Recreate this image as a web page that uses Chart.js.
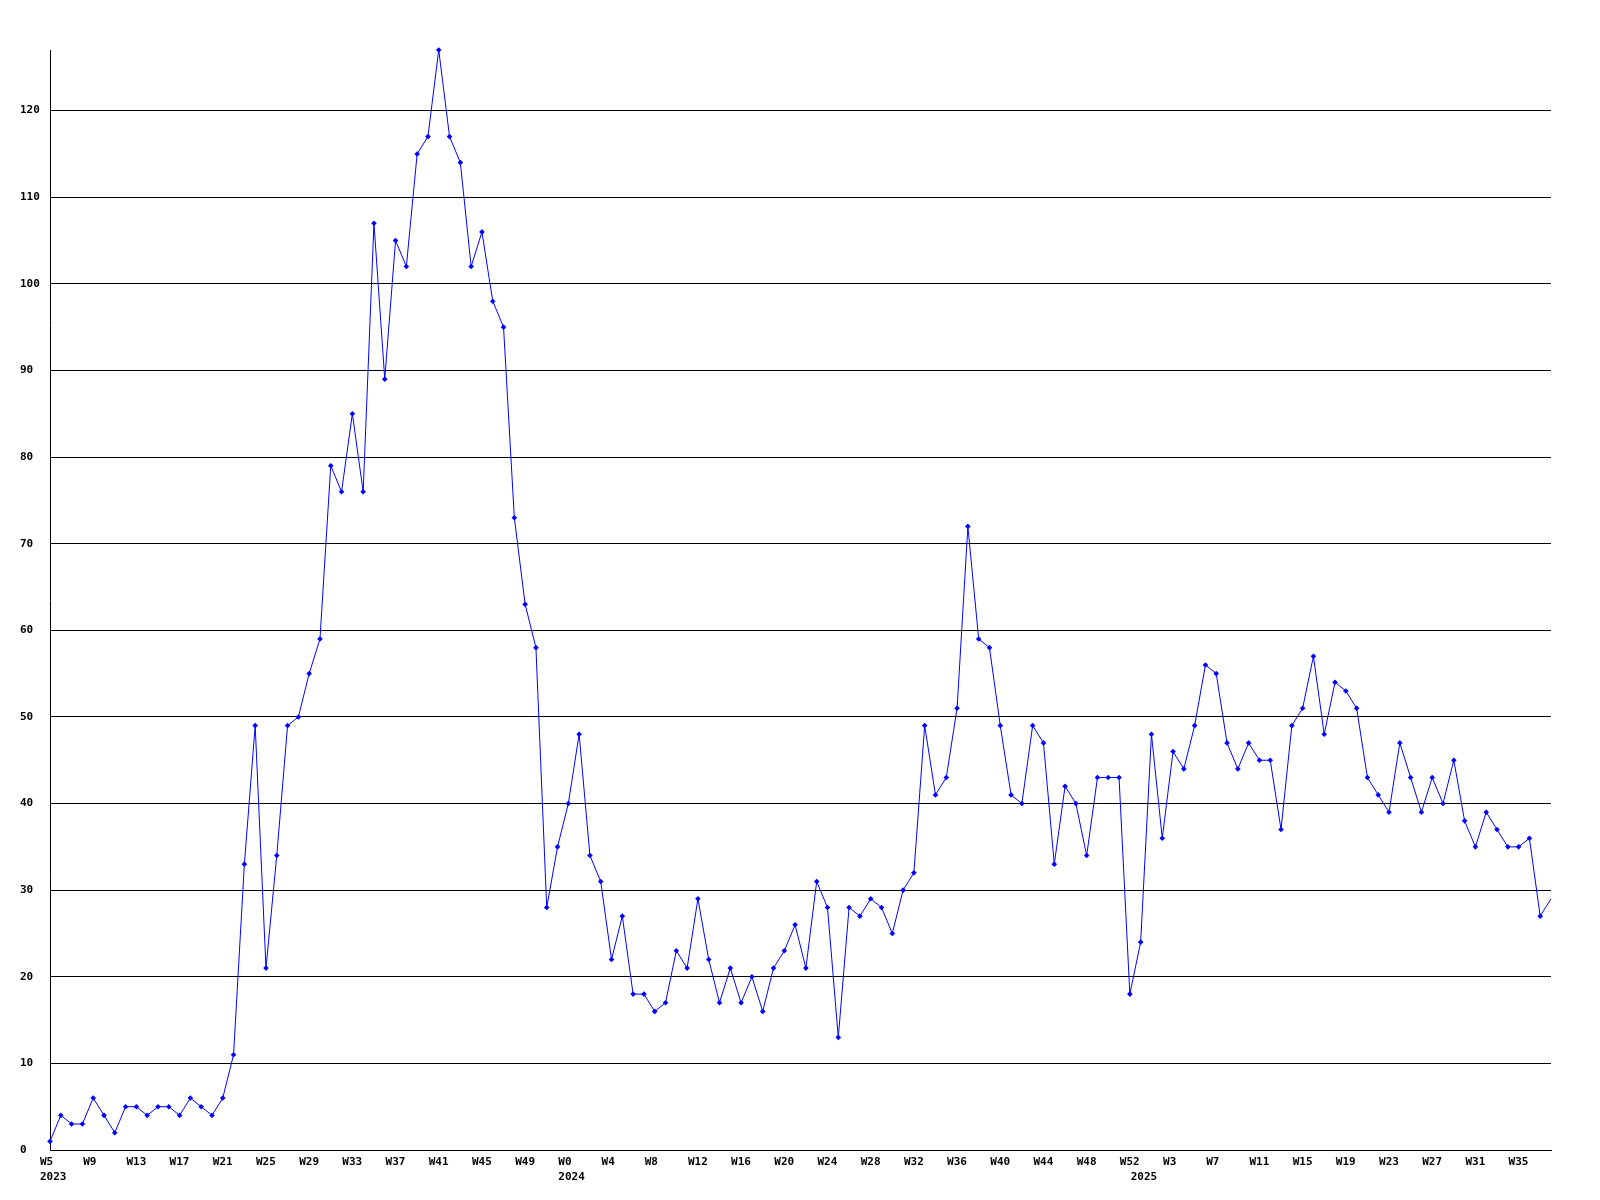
<!DOCTYPE html>
<html lang="en">
  <head>
    <meta charset="UTF-8" />
    <title>Weekly count</title>
    <script src="https://cdn.jsdelivr.net/npm/chart.js@4.4.1/dist/chart.umd.min.js"></script>
    <style>
      body {
        margin: 0;
        background: #fff;
      }
      canvas {
        display: block;
      }
    </style>
  </head>
  <body>
    <canvas id="weekly" width="1600" height="1200"></canvas>
    <script>
      // year, first week, last week shown for that year
      const yearWeeks = [
        [2023, 5, 52],
        [2024, 0, 52],
        [2025, 0, 38]
      ]

      const counts = [
        1, 4, 3, 3, 6, 4, 2, 5, 5, 4, 5, 5, 4, 6, 5, 4, 6, 11, 33, 49,
        21, 34, 49, 50, 55, 59, 79, 76, 85, 76, 107, 89, 105, 102, 115, 117, 127, 117, 114, 102,
        106, 98, 95, 73, 63, 58, 28, 35, 40, 48, 34, 31, 22, 27, 18, 18, 16, 17, 23, 21,
        29, 22, 17, 21, 17, 20, 16, 21, 23, 26, 21, 31, 28, 13, 28, 27, 29, 28, 25, 30,
        32, 49, 41, 43, 51, 72, 59, 58, 49, 41, 40, 49, 47, 33, 42, 40, 34, 43, 43, 43,
        18, 24, 48, 36, 46, 44, 49, 56, 55, 47, 44, 47, 45, 45, 37, 49, 51, 57, 48, 54,
        53, 51, 43, 41, 39, 47, 43, 39, 43, 40, 45, 38, 35, 39, 37, 35, 35, 36, 27, 29
      ]

      const yTicks = [0, 10, 20, 30, 40, 50, 60, 70, 80, 90, 100, 110, 120]
      const yMax = 127

      const weekLabels = []
      const weekYears = []
      yearWeeks.forEach(([year, first, last]) => {
        for (let w = first; w <= last; w++) {
          weekLabels.push('W' + w)
          weekYears.push(year)
        }
      })

      const tickFont = {
        family: "'DejaVu Sans Mono', monospace",
        weight: 'bold',
        size: 11,
        lineHeight: '15.5px'
      }

      new Chart(document.getElementById('weekly'), {
        type: 'line',
        data: {
          labels: weekLabels,
          datasets: [
            {
              data: counts,
              borderColor: '#0000ff',
              backgroundColor: '#0000ff',
              borderWidth: 1,
              tension: 0,
              pointStyle: 'rectRot',
              // last week is still running, no marker
              pointRadius: ctx => (ctx.dataIndex === counts.length - 1 ? 0 : 2.8),
              pointBorderWidth: 0,
              clip: false
            }
          ]
        },
        options: {
          responsive: false,
          animation: false,
          layout: { padding: { left: 20, top: 50, right: 49, bottom: 0 } },
          plugins: {
            legend: { display: false },
            tooltip: { enabled: false }
          },
          scales: {
            x: {
              type: 'category',
              offset: false,
              grid: { display: false, drawTicks: false },
              border: { display: true, color: '#000', width: 1 },
              afterFit: scale => {
                scale.height = 50
              },
              ticks: {
                autoSkip: false,
                maxRotation: 0,
                minRotation: 0,
                align: 'start',
                labelOffset: -10,
                padding: 4,
                color: '#000',
                font: tickFont,
                callback: (value, index) => {
                  const week = index % 4 === 0 ? weekLabels[index] : ''
                  const newYear = index === 0 || weekYears[index] !== weekYears[index - 1]
                  return newYear ? [week, String(weekYears[index])] : week
                }
              }
            },
            y: {
              min: 0,
              max: yMax,
              afterFit: scale => {
                scale.width = 30
              },
              afterBuildTicks: scale => {
                scale.ticks = yTicks.map(v => ({ value: v }))
              },
              grid: { color: '#000', lineWidth: 1, drawTicks: false },
              border: { display: true, color: '#000', width: 1 },
              ticks: {
                crossAlign: 'far',
                padding: 0,
                color: '#000',
                font: tickFont
              }
            }
          }
        }
      })
    </script>
  </body>
</html>
